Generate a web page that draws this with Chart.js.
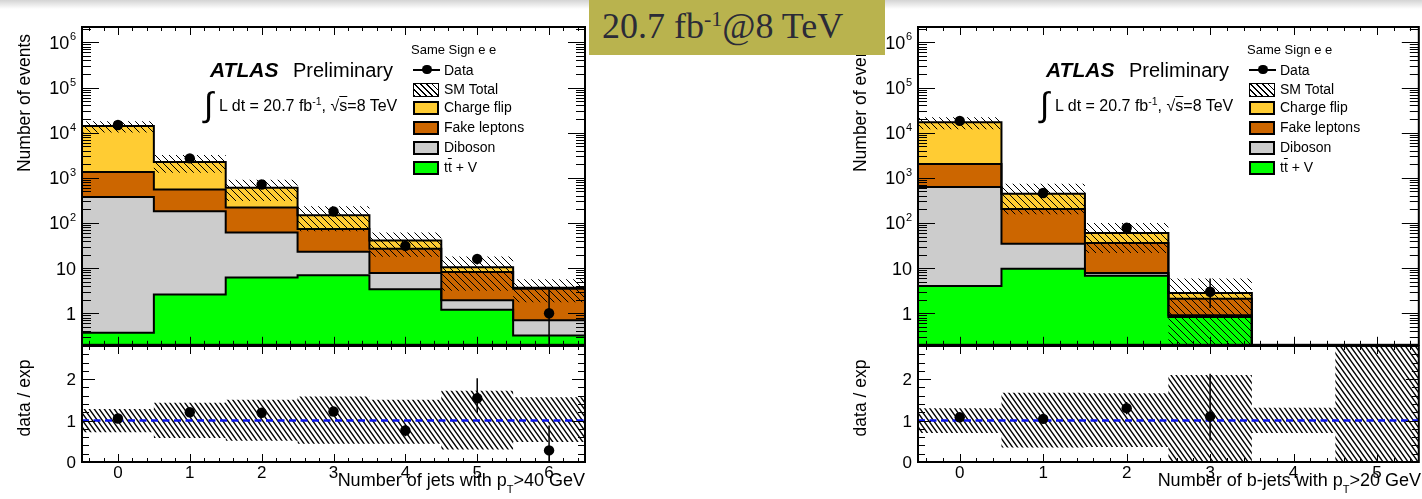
<!DOCTYPE html>
<html lang="en">
<head>
<meta charset="utf-8">
<title>Same Sign e e — jet and b-jet multiplicities</title>
<script src="https://cdn.jsdelivr.net/npm/chart.js@4.4.1/dist/chart.umd.min.js"></script>
<style>
  html, body { margin: 0; padding: 0; background: #fff; }
  body { position: relative; width: 1422px; height: 499px; overflow: hidden;
         font-family: "Liberation Sans", Arial, Helvetica, sans-serif; color: #000; }
  canvas { position: absolute; }
  .t { position: absolute; white-space: nowrap; line-height: 1; }
  .rot { transform: translate(-50%, -50%) rotate(-90deg); }
  .sw { position: absolute; box-sizing: border-box; width: 26px; height: 13.5px; border: 2px solid #000; }
  .hatch { border-width: 1px; background: repeating-linear-gradient(45deg, #000 0 0.9px, #fff 0.9px 4.2px); }
  .fade { position: absolute; left: 0; top: 0; width: 1422px; height: 9px; background: linear-gradient(#d4d4d4, rgba(255,255,255,0)); }
  .banner { position: absolute; left: 589px; top: 0; width: 296px; height: 55px; background: #b9b34e; }
  .bannertext { left: 602px; top: 8px; font-family: "Liberation Serif", "Times New Roman", serif; font-size: 36px; color: #2b2b37; }
</style>
</head>
<body>
<div class="fade"></div>
<canvas id="jetTop" width="600" height="350" style="left:0px;top:0px"></canvas>
<canvas id="jetRatio" width="600" height="159" style="left:0px;top:340px"></canvas>
<canvas id="bjetTop" width="588" height="350" style="left:836px;top:0px"></canvas>
<canvas id="bjetRatio" width="588" height="159" style="left:836px;top:340px"></canvas>
<div id="overlay"></div>
<div class="banner"></div>
<div class="t bannertext">20.7 fb<span style="font-size:22px;position:relative;top:-12px">-1</span>@8 TeV</div>
<script>
// ---------------- data ----------------
const jetBins = [0, 1, 2, 3, 4, 5, 6];
const jetTtV = [0.37, 2.6, 6.2, 6.9, 3.4, 1.2, 0.32];
const jetDiboson = [375, 180, 55, 16, 4.4, 0.75, 0.38];
const jetFake = [970, 370, 160, 51, 19, 6.2, 2.8];
const jetChargeFlip = [12700, 1680, 380, 75, 14, 2.3, 0.15];
const jetData = [14800, 2700, 710, 180, 31, 16, 1];
const jetDataErrUp = [122, 52, 27, 13, 5.6, 4, 2.3];
const jetDataErrDown = [122, 52, 27, 13, 5.6, 4, 1];
const jetBandLow = [0.72, 0.58, 0.51, 0.44, 0.44, 0.30, 0.48];
const jetBandHigh = [1.28, 1.43, 1.50, 1.58, 1.50, 1.72, 1.56];
const jetRatio = [1.05, 1.20, 1.19, 1.22, 0.76, 1.54, 0.28];
const jetRatioErrUp = [0.01, 0.03, 0.05, 0.09, 0.14, 0.48, 0.60];
const jetRatioErrDown = [0.01, 0.03, 0.05, 0.09, 0.14, 0.36, 0.28];

const bjetBins = [0, 1, 2, 3, 4, 5];
const bjetTtV = [4.0, 9.7, 6.8, 0.83, 0, 0];
const bjetDiboson = [620, 25, 1.0, 0.07, 0, 0];
const bjetFake = [1400, 170, 28, 1.2, 0, 0];
const bjetChargeFlip = [14900, 240, 24, 0.7, 0, 0];
const bjetData = [18200, 461, 78, 3, null, null];
const bjetDataErrUp = [135, 21, 9, 2.9, null, null];
const bjetDataErrDown = [135, 21, 9, 1.7, null, null];
const bjetBandLow = [0.70, 0.35, 0.36, 0, 0.70, 0];
const bjetBandHigh = [1.30, 1.67, 1.66, 2.10, 1.31, 3.0];
const bjetRatio = [1.08, 1.04, 1.30, 1.10, null, null];
const bjetRatioErrUp = [0.01, 0.05, 0.15, 1.03, null, null];
const bjetRatioErrDown = [0.01, 0.05, 0.15, 0.58, null, null];

const logTickValues = [1, 10, 100, 1000, 10000, 100000, 1000000];
const ratioTickValues = [0, 1, 2];

// ---------------- helpers ----------------
const FLOOR = 1e-3;
const posLog = v => (v > 0 ? v : FLOOR);
const asIs = v => v;

function stepPoints(bins, vals, f) {
  const pts = bins.map((b, i) => ({ x: b - 0.5, y: f(vals[i]) }));
  pts.push({ x: bins[bins.length - 1] + 0.5, y: f(vals[vals.length - 1]) });
  return pts;
}
function errorSegments(bins, vals, up, down, f) {
  const out = [];
  bins.forEach((b, i) => {
    if (vals[i] == null) return;
    out.push({ x: b, y: f(vals[i] - down[i]) }, { x: b, y: vals[i] + up[i] }, { x: b, y: null });
  });
  return out;
}
function markers(bins, vals) { return bins.map((b, i) => ({ x: b, y: vals[i] })); }

function makeHatch(w, h, lw) {
  const c = document.createElement('canvas');
  c.width = w; c.height = h;
  const g = c.getContext('2d');
  g.strokeStyle = '#000'; g.lineWidth = lw;
  g.beginPath();
  for (const o of [-w, 0, w]) { g.moveTo(o - w, -h); g.lineTo(o + 2 * w, 2 * h); }
  g.stroke();
  return g.createPattern(c, 'repeat');
}
const hatchTop = makeHatch(7, 7, 1);
const hatchRatio = makeHatch(5, 7, 1.35);

function lineDS(label, data, extra) {
  return Object.assign({
    label, data, type: 'line', pointRadius: 0, pointHoverRadius: 0,
    borderWidth: 0, borderColor: 'rgba(0,0,0,0)', backgroundColor: 'rgba(0,0,0,0)',
    fill: false, tension: 0, spanGaps: false
  }, extra);
}

function linTicks(min, max, step, majors) {
  const out = [];
  const n0 = Math.ceil(min / step - 1e-9), n1 = Math.floor(max / step + 1e-9);
  for (let n = n0; n <= n1; n++) {
    const v = +(n * step).toFixed(6);
    if (v <= min || v >= max) continue;
    out.push({ v, major: majors.some(m => Math.abs(m - v) < 1e-6) });
  }
  return out;
}
function logTicks(min, max) {
  const out = [];
  for (let e = -1; e <= 6; e++) {
    for (let m = 1; m <= 9; m++) {
      const v = m * Math.pow(10, e);
      if (v <= min * 1.0001 || v >= max) continue;
      out.push({ v, major: m === 1 });
    }
  }
  return out;
}

function rootAxes(cfg) {
  return {
    id: 'rootAxes',
    afterDatasetsDraw(chart) {
      const ctx = chart.ctx, a = chart.chartArea, xs = chart.scales.x, ys = chart.scales.y;
      ctx.save();
      ctx.strokeStyle = '#000';
      ctx.lineWidth = 1;
      ctx.beginPath();
      for (const t of cfg.xTicks) {
        const px = Math.round(xs.getPixelForValue(t.v)) + 0.5;
        const L = t.major ? cfg.xLen[0] : cfg.xLen[1];
        ctx.moveTo(px, a.bottom); ctx.lineTo(px, a.bottom - L);
        ctx.moveTo(px, a.top); ctx.lineTo(px, a.top + L);
      }
      for (const t of cfg.yTicks) {
        const py = Math.round(ys.getPixelForValue(t.v)) + 0.5;
        const L = t.major ? cfg.yLen[0] : cfg.yLen[1];
        ctx.moveTo(a.left, py); ctx.lineTo(a.left + L, py);
        ctx.moveTo(a.right, py); ctx.lineTo(a.right - L, py);
      }
      ctx.stroke();
      ctx.lineWidth = 2;
      ctx.strokeRect(a.left, a.top, a.right - a.left, a.bottom - a.top);
      ctx.fillStyle = '#000';
      ctx.textBaseline = 'alphabetic';
      ctx.textAlign = 'right';
      for (const l of cfg.yLabels) {
        const py = ys.getPixelForValue(l.v);
        let x = a.left - 6;
        if (l.exp) {
          ctx.font = cfg.supFont;
          ctx.fillText(l.exp, x, py - 2);
          x -= ctx.measureText(l.exp).width + 0.5;
        }
        ctx.font = cfg.labelFont;
        ctx.fillText(l.base, x, py + cfg.labelDy);
      }
      if (cfg.xLabels) {
        ctx.textAlign = 'center';
        ctx.font = cfg.labelFont;
        for (const l of cfg.xLabels) ctx.fillText(l.text, xs.getPixelForValue(l.v), a.bottom + cfg.xLabelDy);
      }
      ctx.restore();
    }
  };
}

function baseOptions(pad, xMax, yScale) {
  return {
    responsive: false, animation: false, events: [],
    layout: { padding: pad },
    scales: {
      x: { type: 'linear', min: -0.5, max: xMax, bounds: 'data', display: false },
      y: Object.assign({ display: false, bounds: 'data' }, yScale)
    },
    plugins: {
      legend: { display: false }, tooltip: { enabled: false },
      filler: { propagate: false, drawTime: 'beforeDatasetsDraw' }
    },
    elements: { point: { radius: 0, hoverRadius: 0 } }
  };
}

const LABEL_FONT = '17px "Liberation Sans", Arial, sans-serif';
const LOG_FONT = '18px "Liberation Sans", Arial, sans-serif';
const SUP_FONT = '11px "Liberation Sans", Arial, sans-serif';

function buildTop(id, bins, ttv, dib, fake, cf, data, errUp, errDn, lo, hi, padRight) {
  const xMax = bins[bins.length - 1] + 0.5;
  const cumDib = ttv.map((v, i) => v + dib[i]);
  const cumFake = cumDib.map((v, i) => v + fake[i]);
  const total = cumFake.map((v, i) => v + cf[i]);
  const stack = { stepped: true, borderWidth: 2, borderColor: '#000' };
  const datasets = [
    lineDS('tt\u0304 + V', stepPoints(bins, ttv, posLog), Object.assign({ backgroundColor: '#00ff00', fill: 'start', order: 7 }, stack)),
    lineDS('Diboson', stepPoints(bins, cumDib, posLog), Object.assign({ backgroundColor: '#cccccc', fill: '-1', order: 6 }, stack)),
    lineDS('Fake leptons', stepPoints(bins, cumFake, posLog), Object.assign({ backgroundColor: '#cc6600', fill: '-1', order: 5 }, stack)),
    lineDS('Charge flip', stepPoints(bins, total, posLog), Object.assign({ backgroundColor: '#ffcc33', fill: '-1', order: 4 }, stack)),
    lineDS('SM Total (low)', stepPoints(bins, total.map((t, i) => t * lo[i]), posLog), { stepped: true, order: 3 }),
    lineDS('SM Total', stepPoints(bins, total.map((t, i) => t * hi[i]), posLog), { stepped: true, backgroundColor: hatchTop, fill: '-1', order: 2 }),
    lineDS('Data errors', errorSegments(bins, data, errUp, errDn, posLog), { borderWidth: 1.5, borderColor: '#000', order: 1 }),
    lineDS('Data', markers(bins, data), { showLine: false, pointRadius: 5.2, pointBackgroundColor: '#000', pointBorderColor: '#000', pointBorderWidth: 0, order: 0 })
  ];
  const yMin = 0.2, yMax = 2.19e6;
  new Chart(document.getElementById(id), {
    type: 'line',
    data: { datasets },
    options: baseOptions({ left: 82, top: 27, right: padRight, bottom: 5 }, xMax, { type: 'logarithmic', min: yMin, max: yMax }),
    plugins: [rootAxes({
      xTicks: linTicks(-0.5, xMax, 0.2, bins), xLen: [8, 4],
      yTicks: logTicks(yMin, yMax), yLen: [17, 9],
      yLabels: logTickValues.map(v => {
        const e = Math.round(Math.log10(v));
        return e <= 1 ? { v, base: String(v) } : { v, base: '10', exp: String(e) };
      }),
      labelFont: LOG_FONT, supFont: SUP_FONT, labelDy: 6.5
    })]
  });
}

function buildRatio(id, bins, ratio, rUp, rDn, lo, hi, padRight) {
  const xMax = bins[bins.length - 1] + 0.5;
  const datasets = [
    lineDS('band low', stepPoints(bins, lo, asIs), { stepped: true, order: 4 }),
    lineDS('band', stepPoints(bins, hi, asIs), { stepped: true, backgroundColor: hatchRatio, fill: '-1', order: 3 }),
    lineDS('unity', [{ x: -0.5, y: 1 }, { x: xMax, y: 1 }], { borderWidth: 2.5, borderColor: '#0a14ee', borderDash: [7, 4.5], order: 2 }),
    lineDS('ratio errors', errorSegments(bins, ratio, rUp, rDn, asIs), { borderWidth: 1.5, borderColor: '#000', order: 1 }),
    lineDS('data / exp', markers(bins, ratio), { showLine: false, pointRadius: 5.2, pointBackgroundColor: '#000', pointBorderColor: '#000', pointBorderWidth: 0, order: 0 })
  ];
  new Chart(document.getElementById(id), {
    type: 'line',
    data: { datasets },
    options: baseOptions({ left: 82, top: 6, right: padRight, bottom: 37 }, xMax, { type: 'linear', min: 0, max: 2.8 }),
    plugins: [rootAxes({
      xTicks: linTicks(-0.5, xMax, 0.2, bins), xLen: [8, 4],
      yTicks: linTicks(0, 2.8, 0.2, ratioTickValues), yLen: [13, 7],
      yLabels: ratioTickValues.map(v => ({ v, base: String(v) })),
      xLabels: bins.map(b => ({ v: b, text: String(b) })),
      labelFont: LABEL_FONT, supFont: SUP_FONT, labelDy: 6, xLabelDy: 16
    })]
  });
}

buildTop('jetTop', jetBins, jetTtV, jetDiboson, jetFake, jetChargeFlip, jetData, jetDataErrUp, jetDataErrDown, jetBandLow, jetBandHigh, 15);
buildRatio('jetRatio', jetBins, jetRatio, jetRatioErrUp, jetRatioErrDown, jetBandLow, jetBandHigh, 15);
buildTop('bjetTop', bjetBins, bjetTtV, bjetDiboson, bjetFake, bjetChargeFlip, bjetData, bjetDataErrUp, bjetDataErrDown, bjetBandLow, bjetBandHigh, 1);
buildRatio('bjetRatio', bjetBins, bjetRatio, bjetRatioErrUp, bjetRatioErrDown, bjetBandLow, bjetBandHigh, 1);

// ---------------- text annotations ----------------
function annotate(ox, xTitle) {
  const h = [];
  const T = (html, left, top, fs, style) => h.push(`<div class="t" style="left:${left}px;top:${top}px;font-size:${fs}px;${style || ''}">${html}</div>`);
  h.push(`<div class="t rot" style="left:${ox + 25}px;top:103px;font-size:17.5px">Number of events</div>`);
  h.push(`<div class="t rot" style="left:${ox + 25}px;top:398px;font-size:17.5px">data / exp</div>`);
  h.push(`<div class="t" style="left:${ox + 585}px;top:471px;font-size:18px;transform:translateX(-100%)">${xTitle}</div>`);
  T('ATLAS', ox + 210, 59, 21, 'font-weight:bold;font-style:italic');
  T('Preliminary', ox + 293, 60, 20);
  T('\u222B', ox + 204, 87, 34, 'font-family:"DejaVu Sans",sans-serif');
  T('L dt = 20.7 fb<span style="font-size:10.5px;position:relative;top:-6px">-1</span>, \u221A<span style="text-decoration:overline">s</span>=8 TeV', ox + 219, 98.3, 16);
  // legend
  T('Same Sign e e', ox + 411, 42.6, 13);
  h.push(`<div style="position:absolute;left:${ox + 413}px;top:68.5px;width:27px;height:2px;background:#000"></div>`);
  h.push(`<div style="position:absolute;left:${ox + 422}px;top:64.8px;width:9.5px;height:9.5px;border-radius:50%;background:#000"></div>`);
  T('Data', ox + 444, 62.9, 14);
  h.push(`<div class="sw hatch" style="left:${ox + 413}px;top:83.3px"></div>`);
  T('SM Total', ox + 444, 81.5, 14);
  const sw = [['#ffcc33', 101, 'Charge flip', 99.9], ['#cc6600', 121, 'Fake leptons', 119.9], ['#cccccc', 141, 'Diboson', 140.2],
              ['#00ff00', 161, 't<span style="text-decoration:overline">t</span> + V', 159.9]];
  for (const [c, y, txt, ty] of sw) {
    h.push(`<div class="sw" style="left:${ox + 413}px;top:${y}px;background:${c}"></div>`);
    T(txt, ox + 444, ty, 14);
  }
  document.getElementById('overlay').insertAdjacentHTML('beforeend', h.join(''));
}
const subT = '<span style="font-size:11px;position:relative;top:7px">T</span>';
annotate(0, `Number of jets with p${subT}&gt;40 GeV`);
annotate(836, `Number of b-jets with p${subT}&gt;20 GeV`);
</script>
</body>
</html>
